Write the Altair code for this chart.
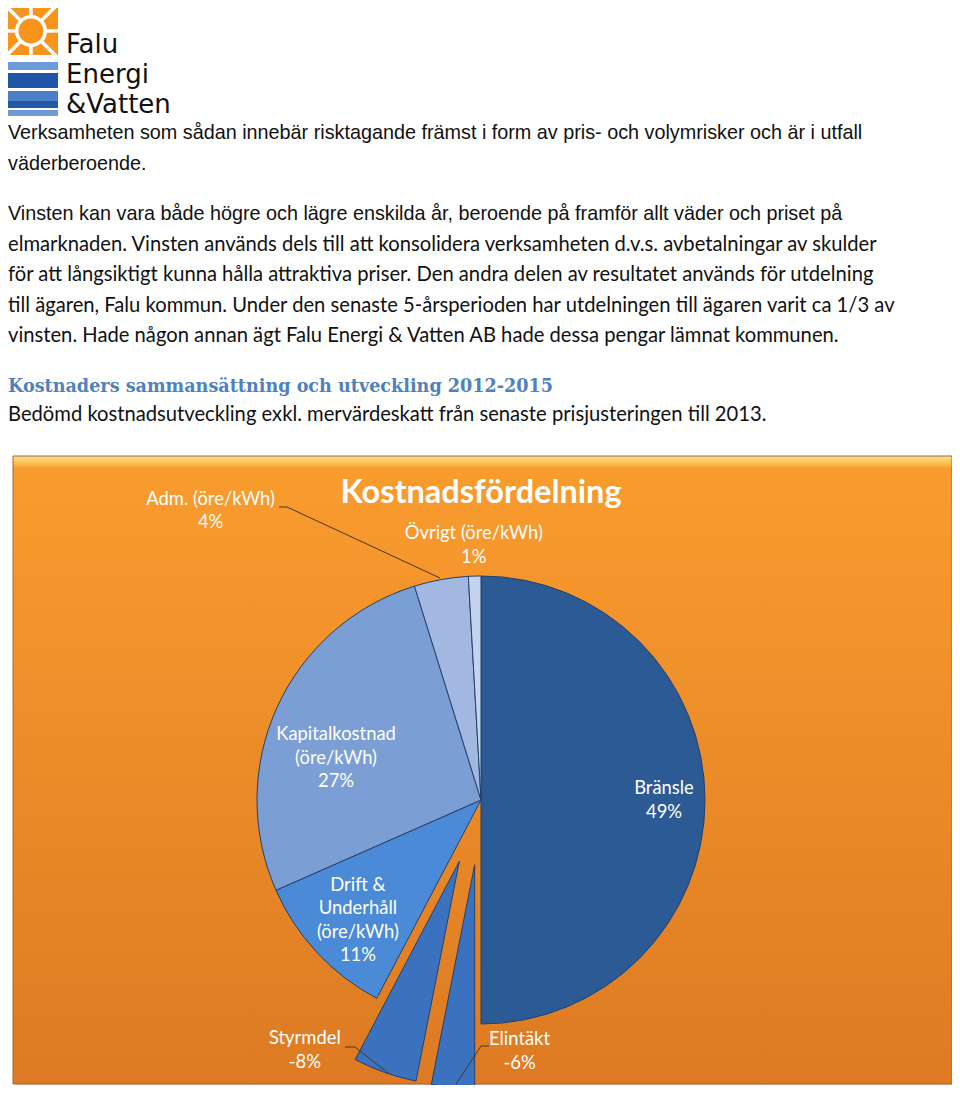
import math
import altair as alt
import pandas as pd

# ---------------- data ----------------
categories = ["Bränsle", "Elintäkt", "Styrmdel", "Drift & Underhåll (öre/kWh)",
              "Kapitalkostnad (öre/kWh)", "Adm. (öre/kWh)", "Övrigt (öre/kWh)"]
label_names = ["Bränsle", "Elintäkt", "Styrmdel", "Drift &\nUnderhåll\n(öre/kWh)",
               "Kapitalkostnad\n(öre/kWh)", "Adm. (öre/kWh)", "Övrigt (öre/kWh)"]
percent_labels = [49, -6, -8, 11, 27, 4, 1]
# share of the full circle taken by each slice
slice_share = [50.0, 3.1, 4.6, 10.7, 26.8, 3.9, 0.9]
exploded = ["Elintäkt", "Styrmdel"]

slice_colors = ["#2C5A95", "#3A72BF", "#3A72BF", "#4B8AD6", "#7B9ED4", "#A3B8E0", "#C6D3EC"]

chart_title = "Kostnadsfördelning"
heading = "Kostnaders sammansättning och utveckling 2012-2015"
arial_lines = [
    "Verksamheten som sådan innebär risktagande främst i form av pris- och volymrisker och är i utfall",
    "väderberoende.",
    "Vinsten kan vara både högre och lägre enskilda år, beroende på framför allt väder och priset på",
]
calibri_lines = [
    "elmarknaden. Vinsten används dels till att konsolidera verksamheten d.v.s. avbetalningar av skulder",
    "för att långsiktigt kunna hålla attraktiva priser. Den andra delen av resultatet används för utdelning",
    "till ägaren, Falu kommun. Under den senaste 5-årsperioden har utdelningen till ägaren varit ca 1/3 av",
    "vinsten.  Hade någon annan ägt Falu Energi & Vatten AB hade dessa pengar lämnat kommunen.",
]
intro_line = "Bedömd kostnadsutveckling exkl. mervärdeskatt från senaste prisjusteringen till 2013."
logo_words = ["Falu", "Energi", "&Vatten"]

# ---------------- layout constants ----------------
W, H = 944, 1077
CX, CY = 473, 792
R = 224
LH = 23.5
one = pd.DataFrame({"k": [0]})


def T(text, x, y, size, font="Liberation Sans", color="#000000", weight="normal",
      align="left", baseline="alphabetic"):
    return alt.Chart(one).mark_text(text=text, font=font, fontSize=size, fontWeight=weight,
                                    color=color, align=align, baseline=baseline).encode(
        x=alt.value(x), y=alt.value(y))


def RECT(x1, y1, x2, y2, **kw):
    return alt.Chart(one).mark_rect(**kw).encode(
        x=alt.value(x1), x2=alt.value(x2), y=alt.value(y1), y2=alt.value(y2))


def RULE(x1, y1, x2, y2, color, width=1.0):
    return alt.Chart(one).mark_rule(color=color, strokeWidth=width).encode(
        x=alt.value(x1), x2=alt.value(x2), y=alt.value(y1), y2=alt.value(y2))


def DOT(x, y, d, color):
    return alt.Chart(one).mark_point(filled=True, shape="circle", size=d * d, color=color,
                                     opacity=1, strokeWidth=0).encode(
        x=alt.value(x), y=alt.value(y))


layers = []

# ---------------- logo ----------------
layers.append(RECT(0, 0, 50, 47, color="#F7941E"))
sx, sy = 23, 23
for ang in range(0, 360, 45):
    a = math.radians(ang)
    layers.append(RULE(sx, sy, sx + 45 * math.sin(a), sy - 45 * math.cos(a), "#FFFFFF", 3.5))
layers.append(RECT(50, 0, 56, 50, color="#FFFFFF"))
layers.append(RECT(0, 47, 56, 54, color="#FFFFFF"))
layers.append(DOT(sx, sy, 32, "#FFFFFF"))
layers.append(DOT(sx, sy, 25, "#F7941E"))
wave = [(54, 62, "#6D9BD8"), (65, 80, "#1E55A6"), (83, 93, "#4C7FC8"),
        (93, 100, "#2459A8"), (102, 108, "#6E9AD6")]
for y1, y2, c in wave:
    layers.append(RECT(0, y1, 50, y2, color=c))
for i, w in enumerate(logo_words):
    layers.append(T(w, 58, 45 + 30 * i, 26, font="DejaVu Sans", color="#111111"))

# ---------------- body text ----------------
for line, y in zip(arial_lines, [131, 162, 212]):
    layers.append(T(line, 0, y, 19.8, font="Liberation Sans", color="#111111"))
for line, y in zip(calibri_lines, [243, 273, 304, 334]):
    layers.append(T(line, 0, y, 20.2, font="Lato", color="#111111"))
layers.append(T(heading, 0, 384, 17.6, font="DejaVu Serif", weight="bold", color="#4F81BD"))
layers.append(T(intro_line, 0, 413, 20.2, font="Lato", color="#111111"))

# ---------------- chart frame ----------------
layers.append(RECT(8, 451, 947, 1080, color="#BDBDBD", opacity=0.6))
layers.append(RECT(5, 448, 944, 1076,
                   fill=alt.Gradient(gradient="linear", x1=0, x2=0, y1=0, y2=1,
                                     stops=[alt.GradientStop(offset=0, color="#FDE08C"),
                                            alt.GradientStop(offset=0.01, color="#FBC35A"),
                                            alt.GradientStop(offset=0.02, color="#F99C2E"),
                                            alt.GradientStop(offset=1, color="#DD7A23")]),
                   stroke="#9B6A33", strokeWidth=1))

# ---------------- pie ----------------
pie_df = pd.DataFrame({"category": categories, "order": list(range(len(categories))),
                       "share": slice_share, "pct": percent_labels, "name": label_names})
base = alt.Chart(pie_df).transform_window(
    cum="sum(share)", sort=[alt.SortField("order")], frame=[None, 0]
).transform_calculate(
    start="datum.cum - datum.share",
    mid="datum.cum - datum.share / 2",
    label="datum.name + '\\n' + datum.pct + '%'",
)
theta_scale = alt.Scale(domain=[0, 100], range=[0, 2 * math.pi])
color = alt.Color("category:N", scale=alt.Scale(domain=categories, range=slice_colors), legend=None)


def arcs(filt, dx=0.0, dy=0.0):
    return base.transform_filter(filt).mark_arc(
        outerRadius=R, stroke="#23416B", strokeWidth=1, xOffset=dx, yOffset=dy, opacity=1
    ).encode(theta=alt.Theta("start:Q", scale=theta_scale), theta2="cum:Q",
             color=color, x=alt.value(CX), y=alt.value(CY))


not_exploded = " && ".join([f"datum.category != '{c}'" for c in exploded])
layers.append(arcs(not_exploded))
EXPLODE = 65
cum = 0.0
for cat, share in zip(categories, slice_share):
    mid = cum + share / 2
    cum += share
    if cat in exploded:
        a = mid / 100 * 2 * math.pi
        layers.append(arcs(alt.datum.category == cat, EXPLODE * math.sin(a), -EXPLODE * math.cos(a)))

# leader lines
lead = "#4A3520"
layers += [RULE(271, 499, 279, 499, lead), RULE(279, 499, 432, 570, lead),
           RULE(337, 1039, 347, 1039, lead), RULE(347, 1039, 380, 1065, lead),
           RULE(481, 1038, 473, 1038, lead), RULE(473, 1038, 448, 1076, lead)]


def label(cat, r, dtheta_deg):
    n_lines = label_names[categories.index(cat)].count("\n") + 2
    return base.transform_filter(alt.datum.category == cat).transform_calculate(
        lab=f"datum.mid + {dtheta_deg / 3.6}"
    ).mark_text(radius=r, lineBreak="\n", font="Lato", fontSize=18.4, color="#FFFFFF",
                align="center", baseline="middle", lineHeight=LH,
                dy=-(n_lines - 1) * LH / 2).encode(
        theta=alt.Theta("lab:Q", scale=theta_scale, stack=None),
        text="label:N", x=alt.value(CX), y=alt.value(CY))


layers += [
    label("Bränsle", 183, 0),
    label("Kapitalkostnad (öre/kWh)", 151, -8.2),
    label("Drift & Underhåll (öre/kWh)", 172, -1.3),
    label("Adm. (öre/kWh)", 396, -32.8),
    label("Övrigt (öre/kWh)", 255, 0),
    label("Styrmdel", 306, 15.7),
    label("Elintäkt", 254, -14.3),
]

layers.append(T(chart_title, CX, 495, 32.5, font="Lato", weight="bold", color="#FFFFFF", align="center"))

chart = alt.layer(*layers).properties(
    width=W, height=H, padding=0, autosize="none", background="#FFFFFF"
).configure_view(stroke=None)

chart.save("out.html", embed_options={"renderer": "svg", "actions": False})
